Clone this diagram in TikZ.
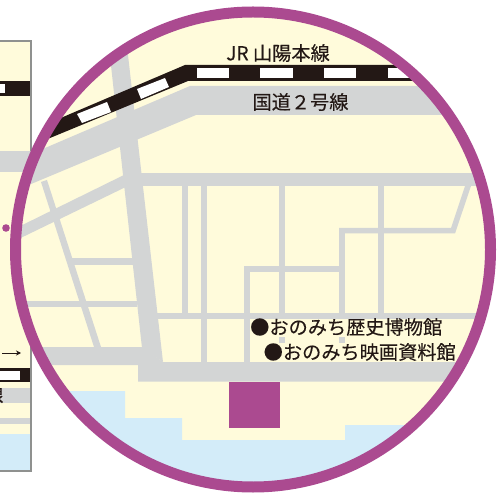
\documentclass[tikz,border=0pt]{standalone}
\usepackage{fontspec}
\usetikzlibrary{arrows.meta}
\newfontfamily\jpfont[FakeBold=0.25]{Noto Sans CJK JP}
\definecolor{cream}{HTML}{FFFBDB}
\definecolor{roadgray}{HTML}{D3D5D5}
\definecolor{railblack}{HTML}{231815}
\definecolor{seablue}{HTML}{D3ECF9}
\definecolor{ringpurple}{HTML}{AB4A90}
\definecolor{framegray}{HTML}{8F918F}
\tikzset{
  road/.style={fill=roadgray,draw=none},
  rail/.style={fill=railblack,draw=none},
  railgap/.style={fill=white,draw=none},
  label/.style={font=\jpfont\fontsize{19.2}{19.2}\selectfont,text=railblack,inner sep=0pt},
}
\begin{document}
\begin{tikzpicture}[x=1pt,y=-1pt]
\useasboundingbox (0,0) rectangle (498,494);
% left inset panel
\begin{scope}
\clip (-2,41) rectangle (31,471);
\fill[cream] (-2,41) rectangle (31,471);
\fill[rail] (-2,81) rectangle (30,96);
\fill[railgap] (-2,84) rectangle (5,93);
\fill[rail] (-2,368) rectangle (30,382);
\fill[railgap] (-2,371) rectangle (20,380);
\fill[road] (-2,388) rectangle (30,403);
\fill[road] (-2,418) rectangle (30,424);
\fill[seablue] (-2,434) rectangle (30,470);
\node[label,anchor=east] (panelText) at (3.5,395) {線};
\end{scope}
\draw[framegray,line width=2pt] (-3,41) -- (31,41) -- (31,471) -- (-3,471);
\fill[road] (-2,151) rectangle (40,172);
\draw[railblack,line width=1pt,-{Stealth[length=5pt,width=5pt]}] (2,353) -- (21,353);
\fill[ringpurple] (6,228) circle (3.8);
% map in the circle
\begin{scope}
\clip (253,249.5) circle (237.5);
\fill[cream] (0,0) rectangle (498,494);
% water
\fill[seablue] (0,391) -- (125,391) -- (125,418) -- (182,418) -- (182,440) -- (345,440) -- (345,425) -- (498,425) -- (498,494) -- (0,494) -- cycle;
% route 2
\fill[road] (0,167) -- (45,148) -- (190,86) -- (498,86) -- (498,115) -- (196,115) -- (0,197) -- cycle;
% main north-south road
\fill[road] (106,20) -- (124,20) -- (163,362) -- (142,348) -- cycle;
% south road
\fill[road] (0,347) -- (142,347) -- (163,362) -- (498,362) -- (498,381.5) -- (138,381.5) -- (138,365) -- (0,365) -- cycle;
% west side roads
\fill[road] (0,236) -- (128,173) -- (132,184) -- (0,248) -- cycle;
\fill[road] (41,182) -- (47,180) -- (101,347) -- (94,347) -- cycle;
\fill[road] (72,258) rectangle (133,265);
\fill[road] (0,301) rectangle (137,307);
% grid
\fill[road] (135,173) rectangle (498,186);
\fill[road] (182,186) rectangle (188,313);
\fill[road] (201,186) rectangle (207,362);
\fill[road] (279,186) rectangle (285,362);
\fill[road] (377.5,186) rectangle (384,313);
\fill[road] (244,266) rectangle (250,362);
\fill[road] (155,313) rectangle (498,319);
\fill[road] (244,266) rectangle (339,272);
\fill[road] (339,228) rectangle (345,362);
\fill[road] (339,228) -- (451,228) -- (465,186) -- (471,186) -- (455,233.5) -- (339,233.5) -- cycle;
% railway
\fill[rail] (0,154) -- (63,117) -- (185,65) -- (498,65) -- (498,81) -- (188,81) -- (50,138) -- (0,160) -- cycle;
\fill[railgap] (77,114) -- (107,102) -- (111,112) -- (82,123) -- cycle;
\fill[railgap] (137,89) -- (165,78) -- (169,87) -- (141,99) -- cycle;
\fill[railgap] (197,68) rectangle (229,78);
\fill[railgap] (260,68) rectangle (292.5,78);
\fill[railgap] (324,68) rectangle (356,78);
\fill[railgap] (388,68) rectangle (420,78);
% museum
\fill[ringpurple] (229,382) rectangle (280,428);
% label grounds
\fill[cream] (250,319) rectangle (444,337);
\fill[cream] (250,343) rectangle (458,362);
\end{scope}
\draw[ringpurple,line width=11pt] (253,249.5) circle (237.5);
% labels
\node[label,anchor=center] (railLabel) at (278,53) {JR 山陽本線};
\node[label,anchor=center] (roadLabel) at (300.5,102) {国道２号線};
\node[label,anchor=west] (museumA) at (250,327) {●おのみち歴史博物館};
\node[label,anchor=west] (museumB) at (263.5,352) {●おのみち映画資料館};
\end{tikzpicture}
\end{document}
